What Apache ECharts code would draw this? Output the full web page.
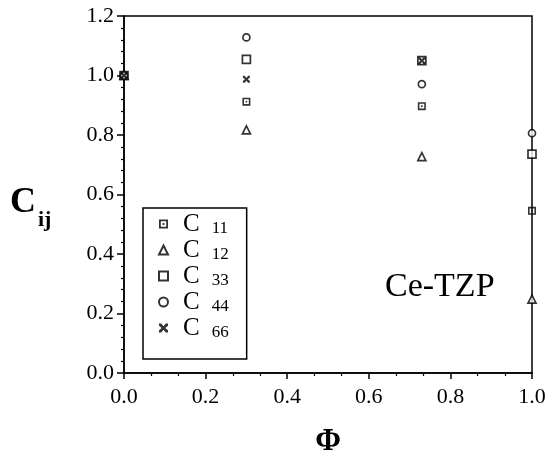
<!DOCTYPE html>
<html>
<head>
<meta charset="utf-8">
<script src="https://cdn.jsdelivr.net/npm/echarts@6/dist/echarts.min.js"></script>
<style>
html, body { margin: 0; padding: 0; background: #fff; }
#chart { width: 547px; height: 451px; }
</style>
</head>
<body>
<div id="chart"></div>
<script>
var phi = [0.0, 0.3, 0.73, 1.0];
var c11 = [1.0, 0.912, 0.897, 0.545];
var c12 = [1.0, 0.817, 0.727, 0.248];
var c33 = [1.0, 1.054, 1.05, 0.736];
var c44 = [1.0, 1.128, 0.971, 0.806];
var c66 = [1.0, 0.987, 1.05, null];
var seriesNames = ['11', '12', '33', '44', '66'];
var xTicks = ['0.0', '0.2', '0.4', '0.6', '0.8', '1.0'];

var serif = 'Liberation Serif';
var symDotSquare = 'path://M0,0 H10 V10 H0 Z M2,2 V8 H8 V2 Z M4,4 H6 V6 H4 Z';
var symCross = 'path://M0,0 L2.5,0 L5,3 L7.5,0 L10,0 L10,2.5 L7,5 L10,7.5 L10,10 L7.5,10 L5,7 L2.5,10 L0,10 L0,7.5 L3,5 L0,2.5 Z';

function pairs(vals) {
	var out = [];
	for (var i = 0; i < phi.length; i++) {
		if (vals[i] != null) out.push([phi[i], vals[i]]);
	}
	return out;
}

function makeSeries(name, vals, symbol, size, filled) {
	return {
		name: name,
		type: 'scatter',
		data: pairs(vals),
		symbol: symbol,
		symbolSize: size,
		itemStyle: filled ? { color: '#000' } : { color: '#fff', borderColor: '#000', borderWidth: 1.7 },
		emphasis: { disabled: true }
	};
}

var chart = echarts.init(document.getElementById('chart'));
var option = {
	animation: false,
	grid: {
		left: 124, right: 15, top: 16, bottom: 78, outerBoundsMode: 'none',
		show: true, borderColor: '#000', borderWidth: 1.5
	},
	xAxis: {
		type: 'value', min: 0, max: 1, interval: 0.2,
		axisLine: { lineStyle: { color: '#000', width: 1.5 } },
		axisTick: { inside: false, length: 6, lineStyle: { color: '#000', width: 1.5 } },
		minorTick: { show: true, splitNumber: 3, length: 3, lineStyle: { color: '#000', width: 1.2 } },
		splitLine: { show: false },
		axisLabel: {
			color: '#000', fontFamily: serif, fontSize: 22, margin: 13,
			formatter: function (v) { return xTicks[Math.round(v / 0.2)]; }
		},
		name: 'Φ', nameLocation: 'middle', nameGap: 53,
		nameTextStyle: { color: '#000', fontFamily: serif, fontSize: 31, fontWeight: 'bold' }
	},
	yAxis: {
		type: 'value', min: 0, max: 1.2, interval: 0.2,
		axisLine: { lineStyle: { color: '#000', width: 1.5 } },
		axisTick: { inside: false, length: 7, lineStyle: { color: '#000', width: 1.5 } },
		minorTick: { show: true, splitNumber: 5, length: 3, lineStyle: { color: '#000', width: 1.2 } },
		splitLine: { show: false },
		axisLabel: {
			color: '#000', fontFamily: serif, fontSize: 22, margin: 10,
			formatter: function (v) { return v.toFixed(1); }
		}
	},
	legend: {
		orient: 'vertical', left: 143, top: 208,
		padding: [3, 18, 18, 15], itemGap: 0,
		itemWidth: 9, itemHeight: 9,
		borderColor: '#000', borderWidth: 1.5,
		selectedMode: false,
		formatter: function (name) { return '{c|C}{s|' + name + '}'; },
		textStyle: {
			rich: {
				c: { fontFamily: serif, fontSize: 25, color: '#000', padding: [0, 12, 0, 10], lineHeight: 22 },
				s: { fontFamily: serif, fontSize: 17, color: '#000', padding: [9, 0, 0, 0], lineHeight: 13 }
			}
		},
		data: seriesNames
	},
	graphic: [
		{ type: 'text', left: 10, top: 185, style: { text: 'C', font: 'bold 36px "Liberation Serif"', fill: '#000' } },
		{ type: 'text', left: 38, top: 209, style: { text: 'ij', font: 'bold 22px "Liberation Serif"', fill: '#000' } },
		{ type: 'text', left: 385, top: 270, style: { text: 'Ce-TZP', font: '34px "Liberation Serif"', fill: '#000' } }
	],
	series: [
		makeSeries('11', c11, symDotSquare, 8, true),
		makeSeries('12', c12, 'triangle', 8, false),
		makeSeries('33', c33, 'rect', 8, false),
		makeSeries('44', c44, 'circle', 7, false),
		makeSeries('66', c66, symCross, 7, true)
	]
};
chart.setOption(option);
</script>
</body>
</html>
